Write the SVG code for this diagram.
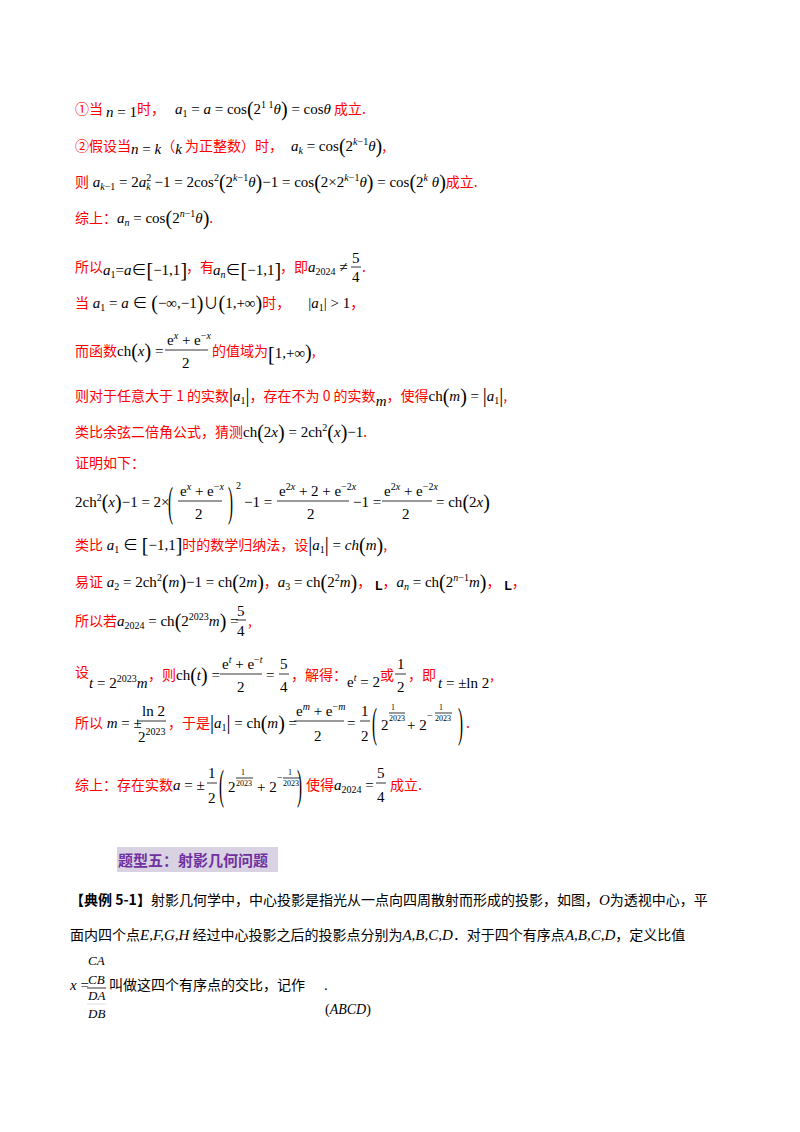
<svg xmlns="http://www.w3.org/2000/svg" width="800" height="1132" viewBox="0 0 800 1132">
<style>
text{font-family:"Liberation Serif","Noto Sans CJK SC",serif;font-size:15px;fill:#000}
.r{fill:#f00;font-family:"Noto Sans CJK SC",sans-serif;font-size:14px}
.k{fill:#000;font-family:"Noto Sans CJK SC",sans-serif;font-size:14px}
.i{font-style:italic}
.s{font-size:10px}
.b{font-size:20px}
.fl{stroke:#000;stroke-width:0.8}
</style>
<rect width="800" height="1132" fill="#fff"/>
<g id="l1"><text x="75" y="114"><tspan class="r">①当</tspan><tspan class="i" dx="3" dy="3">n</tspan><tspan dy="0"> = 1</tspan><tspan class="r" dy="-3">时，</tspan><tspan class="i" dx="10">a</tspan><tspan class="s" dy="3">1</tspan><tspan dy="-3"> = </tspan><tspan class="i">a</tspan><tspan> = cos</tspan><tspan class="b" dy="2">(</tspan><tspan dy="-2">2</tspan><tspan class="s" dy="-6">1 1</tspan><tspan class="i" dy="6">θ</tspan><tspan class="b" dy="2">)</tspan><tspan dy="-2"> = cos</tspan><tspan class="i">θ</tspan><tspan class="r" dx="3">成立.</tspan></text></g>
<g id="l2"><text x="75" y="151"><tspan class="r">②假设当</tspan><tspan class="i" dy="3">n</tspan><tspan> = </tspan><tspan class="i">k</tspan><tspan class="r" dy="-3">（</tspan><tspan class="i" dy="3">k</tspan><tspan class="r" dy="-3"> 为正整数）时，</tspan><tspan class="i" dx="8">a</tspan><tspan class="s i" dy="3">k</tspan><tspan dy="-3"> = cos</tspan><tspan class="b" dy="2">(</tspan><tspan dy="-2">2</tspan><tspan class="s i" dy="-6">k</tspan><tspan class="s" dy="0">−1</tspan><tspan class="i" dy="6">θ</tspan><tspan class="b" dy="2">)</tspan><tspan class="r" dy="-2">,</tspan></text></g>
<g id="l3"><text x="75" y="187"><tspan class="r">则</tspan><tspan class="i"> a</tspan><tspan class="s i" dy="3">k</tspan><tspan class="s" dy="0">−1</tspan><tspan dy="-3"> = 2</tspan><tspan class="i">a</tspan><tspan class="s" dy="-6">2</tspan><tspan class="s i" dx="-5" dy="9">k</tspan><tspan dy="-3"> −1 = 2cos</tspan><tspan class="s" dy="-6">2</tspan><tspan class="b" dy="8">(</tspan><tspan dy="-2">2</tspan><tspan class="s i" dy="-6">k</tspan><tspan class="s">−1</tspan><tspan class="i" dy="6">θ</tspan><tspan class="b" dy="2">)</tspan><tspan dy="-2">−1 = cos</tspan><tspan class="b" dy="2">(</tspan><tspan dy="-2">2×2</tspan><tspan class="s i" dy="-6">k</tspan><tspan class="s">−1</tspan><tspan class="i" dy="6">θ</tspan><tspan class="b" dy="2">)</tspan><tspan dy="-2"> = cos</tspan><tspan class="b" dy="2">(</tspan><tspan dy="-2">2</tspan><tspan class="s i" dy="-6">k</tspan><tspan class="i" dy="6"> θ</tspan><tspan class="b" dy="2">)</tspan><tspan class="r" dy="-2">成立.</tspan></text></g>
<g id="l4"><text x="75" y="223"><tspan class="r">综上：</tspan><tspan class="i">a</tspan><tspan class="s i" dy="3">n</tspan><tspan dy="-3"> = cos</tspan><tspan class="b" dy="2">(</tspan><tspan dy="-2">2</tspan><tspan class="s i" dy="-6">n</tspan><tspan class="s">−1</tspan><tspan class="i" dy="6">θ</tspan><tspan class="b" dy="2">)</tspan><tspan class="r" dy="-2">.</tspan></text></g>
<g id="l5"><text x="75" y="272"><tspan class="r">所以</tspan><tspan class="i" dy="3">a</tspan><tspan class="s" dy="3">1</tspan><tspan dy="-3">=</tspan><tspan class="i">a</tspan><tspan>∈</tspan><tspan class="b" dy="2">[</tspan><tspan dy="-2">−1,1</tspan><tspan class="b" dy="2">]</tspan></text>
<text x="186" y="272" class="r">，有</text>
<text x="213" y="275"><tspan class="i">a</tspan><tspan class="s i" dy="3">n</tspan><tspan dy="-3">∈</tspan><tspan class="b" dy="2">[</tspan><tspan dy="-2">−1,1</tspan><tspan class="b" dy="2">]</tspan></text>
<text x="280" y="272"><tspan class="r">，即</tspan><tspan class="i">a</tspan><tspan class="s" dy="3">2024</tspan><tspan dy="-3"> ≠</tspan></text>
<text x="352" y="263">5</text><line class="fl" x1="351" y1="267" x2="361" y2="267"/><text x="352" y="282">4</text><text x="362" y="272" class="r">.</text></g>
<g id="l6"><text x="75" y="308"><tspan class="r">当</tspan><tspan class="i"> a</tspan><tspan class="s" dy="3">1</tspan><tspan dy="-3"> = </tspan><tspan class="i">a</tspan><tspan> ∈ </tspan><tspan class="b" dy="2">(</tspan><tspan dy="-2">−∞,−1</tspan><tspan class="b" dy="2">)</tspan><tspan dy="-2">∪</tspan><tspan class="b" dy="2">(</tspan><tspan dy="-2">1,+∞</tspan><tspan class="b" dy="2">)</tspan><tspan class="r" dy="-2">时，</tspan><tspan dx="18">|</tspan><tspan class="i">a</tspan><tspan class="s" dy="3">1</tspan><tspan dy="-3">| &gt; 1</tspan><tspan class="r">，</tspan></text></g>
<g id="l7"><text x="75" y="356"><tspan class="r">而函数</tspan><tspan>ch</tspan><tspan class="b" dy="2">(</tspan><tspan class="i" dy="-2">x</tspan><tspan class="b" dy="2">)</tspan><tspan dy="-2"> =</tspan></text>
<text x="167" y="345">e<tspan class="s i" dy="-6">x</tspan><tspan dy="6"> + e</tspan><tspan class="s" dy="-6">−</tspan><tspan class="s i">x</tspan></text><line class="fl" x1="165" y1="350" x2="208" y2="350"/><text x="182" y="368">2</text>
<text x="212" y="356"><tspan class="r">的值域为</tspan><tspan class="b" dy="5">[</tspan><tspan dy="-3">1,+∞</tspan><tspan class="b" dy="1">)</tspan><tspan class="r" dy="-3">,</tspan></text></g>
<g id="l8"><text x="75" y="401"><tspan class="r">则对于任意大于 1 的实数</tspan><tspan class="b" dy="1">|</tspan><tspan class="i" dy="-1">a</tspan><tspan class="s" dy="3">1</tspan><tspan class="b" dy="-2">|</tspan><tspan class="r" dy="-1">，存在不为 0 的实数</tspan><tspan class="i" dy="5">m</tspan><tspan class="r" dy="-5">，使得</tspan><tspan>ch</tspan><tspan class="b" dy="2">(</tspan><tspan class="i" dy="-2">m</tspan><tspan class="b" dy="2">)</tspan><tspan dy="-2"> = </tspan><tspan class="b" dy="1">|</tspan><tspan class="i" dy="-1">a</tspan><tspan class="s" dy="3">1</tspan><tspan class="b" dy="-2">|</tspan><tspan class="r" dy="-1">,</tspan></text></g>
<g id="l9"><text x="75" y="437"><tspan class="r">类比余弦二倍角公式，猜测</tspan><tspan>ch</tspan><tspan class="b" dy="2">(</tspan><tspan dy="-2">2</tspan><tspan class="i">x</tspan><tspan class="b" dy="2">)</tspan><tspan dy="-2"> = 2ch</tspan><tspan class="s" dy="-6">2</tspan><tspan class="b" dy="8">(</tspan><tspan class="i" dy="-2">x</tspan><tspan class="b" dy="2">)</tspan><tspan dy="-2">−1</tspan><tspan class="r">.</tspan></text></g>
<g id="l10"><text x="75" y="468" class="r">证明如下：</text></g>
<g id="l11"><text x="75" y="507"><tspan>2ch</tspan><tspan class="s" dy="-6">2</tspan><tspan class="b" dy="8">(</tspan><tspan class="i" dy="-2">x</tspan><tspan class="b" dy="2">)</tspan><tspan dy="-2">−1 = 2×</tspan></text>
<text transform="translate(168,516) scale(1,2.8)">(</text><text transform="translate(228,516) scale(1,2.8)">)</text><text x="236" y="489" class="s">2</text>
<text x="180" y="496">e<tspan class="s i" dy="-6">x</tspan><tspan dy="6"> + e</tspan><tspan class="s" dy="-6">−</tspan><tspan class="s i">x</tspan></text><line class="fl" x1="178" y1="501" x2="222" y2="501"/><text x="195" y="519">2</text>
<text x="244" y="507">−1 =</text>
<text x="279" y="496">e<tspan class="s" dy="-6">2</tspan><tspan class="s i">x</tspan><tspan dy="6"> + 2 + e</tspan><tspan class="s" dy="-6">−2</tspan><tspan class="s i">x</tspan></text><line class="fl" x1="277" y1="501" x2="349" y2="501"/><text x="307" y="519">2</text>
<text x="353" y="507">−1 =</text>
<text x="384" y="496">e<tspan class="s" dy="-6">2</tspan><tspan class="s i">x</tspan><tspan dy="6"> + e</tspan><tspan class="s" dy="-6">−2</tspan><tspan class="s i">x</tspan></text><line class="fl" x1="382" y1="501" x2="432" y2="501"/><text x="402" y="519">2</text>
<text x="436" y="507"> = ch<tspan class="b" dy="2">(</tspan><tspan dy="-2">2</tspan><tspan class="i">x</tspan><tspan class="b" dy="2">)</tspan></text></g>
<g id="l12"><text x="75" y="550"><tspan class="r">类比</tspan><tspan class="i"> a</tspan><tspan class="s" dy="3">1</tspan><tspan dy="-3"> ∈ </tspan><tspan class="b" dy="2">[</tspan><tspan dy="-2">−1,1</tspan><tspan class="b" dy="2">]</tspan><tspan class="r" dy="-2">时的数学归纳法，设</tspan><tspan class="b" dy="1">|</tspan><tspan class="i" dy="-1">a</tspan><tspan class="s" dy="3">1</tspan><tspan class="b" dy="-2">|</tspan><tspan dy="-1"> = </tspan><tspan class="i">ch</tspan><tspan class="b" dy="2">(</tspan><tspan class="i" dy="-2">m</tspan><tspan class="b" dy="2">)</tspan><tspan class="r" dy="-2">,</tspan></text></g>
<g id="l13"><text x="75" y="587"><tspan class="r">易证</tspan><tspan class="i"> a</tspan><tspan class="s" dy="3">2</tspan><tspan dy="-3"> = 2ch</tspan><tspan class="s" dy="-6">2</tspan><tspan class="b" dy="8">(</tspan><tspan class="i" dy="-2">m</tspan><tspan class="b" dy="2">)</tspan><tspan dy="-2">−1 = ch</tspan><tspan class="b" dy="2">(</tspan><tspan dy="-2">2</tspan><tspan class="i">m</tspan><tspan class="b" dy="2">)</tspan><tspan class="r" dy="-2">，</tspan><tspan class="i">a</tspan><tspan class="s" dy="3">3</tspan><tspan dy="-3"> = ch</tspan><tspan class="b" dy="2">(</tspan><tspan dy="-2">2</tspan><tspan class="s" dy="-6">2</tspan><tspan class="i" dy="6">m</tspan><tspan class="b" dy="2">)</tspan><tspan class="r" dy="-2">，</tspan><tspan dx="4" style="font-size:12px;font-family:'Liberation Sans',sans-serif;font-weight:bold" dy="3">L</tspan><tspan class="r" dy="-3">，</tspan><tspan class="i">a</tspan><tspan class="s i" dy="3">n</tspan><tspan dy="-3"> = ch</tspan><tspan class="b" dy="2">(</tspan><tspan dy="-2">2</tspan><tspan class="s i" dy="-6">n</tspan><tspan class="s">−1</tspan><tspan class="i" dy="6">m</tspan><tspan class="b" dy="2">)</tspan><tspan class="r" dy="-2">，</tspan><tspan dx="4" style="font-size:12px;font-family:'Liberation Sans',sans-serif;font-weight:bold" dy="3">L</tspan><tspan class="r" dy="-3">，</tspan></text></g>
<g id="l14"><text x="75" y="626"><tspan class="r">所以若</tspan><tspan class="i">a</tspan><tspan class="s" dy="3">2024</tspan><tspan dy="-3"> = ch</tspan><tspan class="b" dy="2">(</tspan><tspan dy="-2">2</tspan><tspan class="s" dy="-6">2023</tspan><tspan class="i" dy="6">m</tspan><tspan class="b" dy="2">)</tspan><tspan dy="-2"> =</tspan></text>
<text x="237" y="616">5</text><line class="fl" x1="236" y1="620" x2="246" y2="620"/><text x="237" y="636">4</text><text x="248" y="626" class="r">,</text></g>
<g id="l15"><text x="75" y="677" class="r">设</text><text x="89" y="688"><tspan class="i">t</tspan><tspan> = 2</tspan><tspan class="s" dy="-6">2023</tspan><tspan class="i" dy="6">m</tspan></text>
<text x="148" y="680"><tspan class="r">，则</tspan><tspan>ch</tspan><tspan class="b" dy="2">(</tspan><tspan class="i" dy="-2">t</tspan><tspan class="b" dy="2">)</tspan><tspan dy="-2"> =</tspan></text>
<text x="222" y="669">e<tspan class="s i" dy="-6">t</tspan><tspan dy="6"> + e</tspan><tspan class="s" dy="-6">−</tspan><tspan class="s i">t</tspan></text><line class="fl" x1="220" y1="674" x2="262" y2="674"/><text x="237" y="692">2</text>
<text x="266" y="680">=</text><text x="280" y="669">5</text><line class="fl" x1="279" y1="674" x2="289" y2="674"/><text x="280" y="692">4</text>
<text x="291" y="680" class="r">，解得：</text>
<text x="347" y="687">e<tspan class="s i" dy="-6">t</tspan><tspan dy="6"> = 2</tspan></text>
<text x="380" y="680" class="r">或</text><text x="397" y="669">1</text><line class="fl" x1="395" y1="674" x2="406" y2="674"/><text x="397" y="692">2</text>
<text x="408" y="680" class="r">，即</text><text x="438" y="688"><tspan class="i">t</tspan><tspan> = ±ln 2</tspan></text><text x="490" y="680" class="r">,</text></g>
<g id="l16"><text x="75" y="728"><tspan class="r">所以</tspan><tspan class="i"> m</tspan><tspan> = ±</tspan></text>
<text x="142" y="716">ln 2</text><line class="fl" x1="137" y1="721" x2="166" y2="721"/><text x="138" y="742">2<tspan class="s" dy="-7">2023</tspan></text>
<text x="168" y="728"><tspan class="r">，于是</tspan><tspan class="b" dy="1">|</tspan><tspan class="i" dy="-1">a</tspan><tspan class="s" dy="3">1</tspan><tspan class="b" dy="-2">|</tspan><tspan dy="-1"> = ch</tspan><tspan class="b" dy="2">(</tspan><tspan class="i" dy="-2">m</tspan><tspan class="b" dy="2">)</tspan><tspan dy="-2"> =</tspan></text>
<text x="296" y="716">e<tspan class="s i" dy="-6">m</tspan><tspan dy="6"> + e</tspan><tspan class="s" dy="-6">−</tspan><tspan class="s i">m</tspan></text><line class="fl" x1="294" y1="721" x2="344" y2="721"/><text x="314" y="741">2</text>
<text x="347" y="728">=</text><text x="361" y="716">1</text><line class="fl" x1="360" y1="721" x2="370" y2="721"/><text x="361" y="741">2</text>
<text transform="translate(372,737) scale(1,2.8)">(</text><text transform="translate(458,737) scale(1,2.8)">)</text>
<text x="381" y="730">2</text><text x="391" y="710" style="font-size:8px">1</text><line class="fl" x1="389" y1="713" x2="405" y2="713"/><text x="389" y="721" style="font-size:8px">2023</text>
<text x="407" y="730">+ 2</text><text x="427" y="719" class="s">−</text><text x="439" y="710" style="font-size:8px">1</text><line class="fl" x1="435" y1="713" x2="452" y2="713"/><text x="435" y="721" style="font-size:8px">2023</text>
<text x="466" y="728" class="r">.</text></g>
<g id="l17"><text x="75" y="790"><tspan class="r">综上：存在实数</tspan><tspan class="i">a</tspan><tspan> = ±</tspan></text>
<text x="208" y="778">1</text><line class="fl" x1="207" y1="783" x2="217" y2="783"/><text x="208" y="803">2</text>
<text transform="translate(219,799) scale(1,2.8)">(</text><text transform="translate(297,799) scale(1,2.8)">)</text>
<text x="228" y="792">2</text><text x="241" y="775" style="font-size:8px">1</text><line class="fl" x1="236" y1="778" x2="253" y2="778"/><text x="236" y="786" style="font-size:8px">2023</text>
<text x="257" y="792">+ 2</text><text x="277" y="781" class="s">−</text><text x="288" y="775" style="font-size:8px">1</text><line class="fl" x1="283" y1="778" x2="300" y2="778"/><text x="283" y="786" style="font-size:8px">2023</text>
<text x="306" y="790"><tspan class="r">使得</tspan><tspan class="i">a</tspan><tspan class="s" dy="3">2024</tspan><tspan dy="-3"> =</tspan></text>
<text x="377" y="778">5</text><line class="fl" x1="376" y1="783" x2="386" y2="783"/><text x="377" y="802">4</text><text x="390" y="790" class="r">成立.</text></g>
<g id="heading"><rect x="117" y="847" width="161" height="25" fill="#d9d2e3"/><text x="118" y="866" style="font-family:'Noto Sans CJK SC',sans-serif;font-size:15px;font-weight:bold;fill:#7030a0">题型五：射影几何问题</text></g>
<g id="ex1"><text x="70" y="905"><tspan class="k" style="font-weight:bold">【典例 5-1】</tspan><tspan class="k">射影几何学中，中心投影是指光从一点向四周散射而形成的投影，如图，</tspan><tspan class="i">O</tspan><tspan class="k">为透视中心，平</tspan></text>
<text x="70" y="940"><tspan class="k">面内四个点</tspan><tspan class="i">E,F,G,H</tspan><tspan class="k"> 经过中心投影之后的投影点分别为</tspan><tspan class="i">A,B,C,D</tspan><tspan class="k">．对于四个有序点</tspan><tspan class="i">A,B,C,D</tspan><tspan class="k">，定义比值</tspan></text>
<text x="88" y="965" class="i" style="font-size:13px">CA</text>
<text x="70" y="990"><tspan class="i">x</tspan><tspan> = </tspan></text><text x="88" y="984" class="i" style="font-size:13px">CB</text><line class="fl" x1="87" y1="988" x2="106" y2="988"/><text x="88" y="1000" class="i" style="font-size:13px">DA</text><line x1="87" y1="1004" x2="106" y2="1004" stroke="#ccc" stroke-width="0.6"/><text x="88" y="1018" class="i" style="font-size:13px">DB</text>
<text x="109" y="990" class="k">叫做这四个有序点的交比，记作</text><text x="324" y="990">.</text>
<text x="325" y="1014" style="font-size:14px">(<tspan class="i">ABCD</tspan>)</text></g>
</svg>
